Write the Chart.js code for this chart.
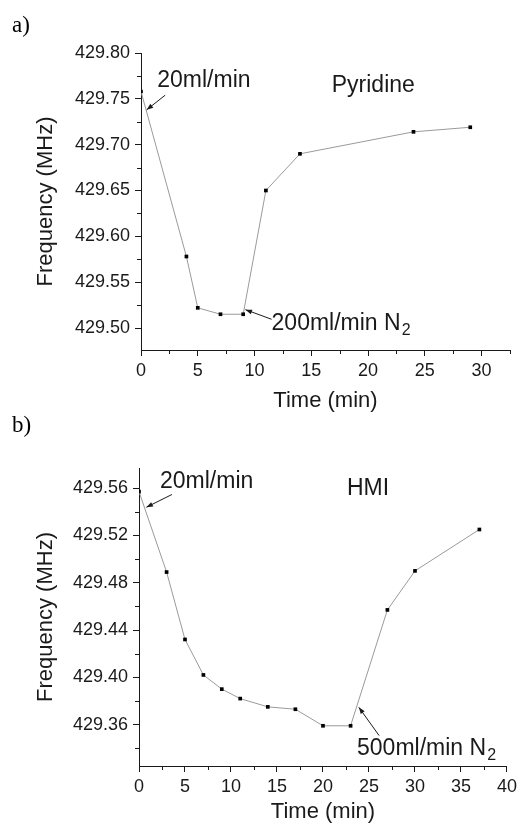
<!DOCTYPE html>
<html>
<head>
<meta charset="utf-8">
<script src="https://cdn.jsdelivr.net/npm/chart.js@4/dist/chart.umd.min.js"></script>
<style>
  html, body { margin: 0; padding: 0; background: #fff; }
  body { width: 521px; height: 825px; position: relative; overflow: hidden; }
  canvas { position: absolute; left: 0; }
  #chart-a { top: 0; }
  #chart-b { top: 415px; }
  .panel-label {
    position: absolute; left: 12px; font: 23px "Liberation Serif", serif;
    line-height: 1; color: #000;
  }
</style>
</head>
<body>
<canvas id="chart-a" width="521" height="415"></canvas>
<canvas id="chart-b" width="521" height="410"></canvas>
<div class="panel-label" style="top:13px">a)</div>
<div class="panel-label" style="top:413px">b)</div>
<script>
// panel a) Pyridine
const timeA = [0, 4, 5, 7, 9, 11, 14, 24, 29];
const freqA = [429.758, 429.578, 429.522, 429.515, 429.515, 429.650, 429.690, 429.714, 429.719];
const xTicksA = [0, 5, 10, 15, 20, 25, 30];
const yTicksA = [429.50, 429.55, 429.60, 429.65, 429.70, 429.75, 429.80];

// panel b) HMI
const timeB = [0, 3, 5, 7, 9, 11, 14, 17, 20, 23, 27, 30, 37];
const freqB = [429.557, 429.489, 429.432, 429.402, 429.390, 429.382, 429.375, 429.373, 429.359, 429.359, 429.457, 429.490, 429.525];
const xTicksB = [0, 5, 10, 15, 20, 25, 30, 35, 40];
const yTicksB = [429.36, 429.40, 429.44, 429.48, 429.52, 429.56];

const FONT = '"Liberation Sans", Arial, sans-serif';
const INK = "#1a1a1a";

function minorTicks(major, min, max) {
  const step = major[1] - major[0];
  const out = [];
  [major[0] - step, ...major].forEach((v) => {
    const m = v + step / 2;
    if (m >= min - 1e-9 && m <= max + 1e-9) out.push(m);
  });
  return out;
}

// short minor ticks drawn outside the axes
const minorTickPlugin = {
  id: "minorTicks",
  afterDraw(chart, args, opts) {
    const { ctx, scales } = chart;
    const xs = scales.x, ys = scales.y;
    ctx.save();
    ctx.strokeStyle = INK;
    ctx.lineWidth = 1;
    ctx.beginPath();
    opts.x.forEach((v) => {
      const px = Math.round(xs.getPixelForValue(v)) + 0.5;
      ctx.moveTo(px, ys.bottom);
      ctx.lineTo(px, ys.bottom + 4);
    });
    opts.y.forEach((v) => {
      const py = Math.round(ys.getPixelForValue(v)) + 0.5;
      ctx.moveTo(xs.left, py);
      ctx.lineTo(xs.left - 4, py);
    });
    ctx.stroke();
    ctx.restore();
  },
};

// text notes and arrows placed in data units
const notesPlugin = {
  id: "notes",
  afterDraw(chart, args, opts) {
    const { ctx, scales } = chart;
    const px = (v) => scales.x.getPixelForValue(v);
    const py = (v) => scales.y.getPixelForValue(v);
    ctx.save();
    ctx.fillStyle = INK;
    ctx.strokeStyle = INK;
    ctx.textBaseline = "alphabetic";
    (opts.texts || []).forEach((t) => {
      ctx.font = `23px ${FONT}`;
      const x = px(t.x), y = py(t.y);
      ctx.fillText(t.text, x, y);
      if (t.sub) {
        const w = ctx.measureText(t.text).width;
        ctx.font = `16px ${FONT}`;
        ctx.fillText(t.sub, x + w + 1, y + 5);
      }
    });
    (opts.arrows || []).forEach((a) => {
      const x1 = px(a.from[0]), y1 = py(a.from[1]);
      const x2 = px(a.to[0]), y2 = py(a.to[1]);
      const ang = Math.atan2(y2 - y1, x2 - x1);
      ctx.lineWidth = 1;
      ctx.beginPath();
      ctx.moveTo(x1, y1);
      ctx.lineTo(x2, y2);
      ctx.stroke();
      ctx.beginPath();
      ctx.moveTo(x2, y2);
      ctx.lineTo(x2 - 7 * Math.cos(ang - 0.35), y2 - 7 * Math.sin(ang - 0.35));
      ctx.lineTo(x2 - 7 * Math.cos(ang + 0.35), y2 - 7 * Math.sin(ang + 0.35));
      ctx.closePath();
      ctx.fill();
    });
    ctx.restore();
  },
};

function makeChart(id, cfg) {
  const points = cfg.time.map((t, i) => ({ x: t, y: cfg.freq[i] }));
  return new Chart(document.getElementById(id), {
    type: "line",
    data: {
      datasets: [
        {
          data: points,
          borderColor: "#9a9a9a",
          borderWidth: 1,
          pointStyle: "rect",
          pointRadius: 2.6,
          pointBackgroundColor: "#000",
          pointBorderColor: "#000",
          pointBorderWidth: 0,
          tension: 0,
        },
      ],
    },
    options: {
      responsive: false,
      animation: false,
      devicePixelRatio: 1,
      layout: { padding: { left: 0, top: cfg.top, right: cfg.right, bottom: 0 } },
      plugins: {
        legend: { display: false },
        tooltip: { enabled: false },
        minorTicks: {
          x: minorTicks(cfg.xTicks, cfg.xMin, cfg.xMax),
          y: minorTicks(cfg.yTicks, cfg.yMin, cfg.yMax),
        },
        notes: cfg.notes,
      },
      scales: {
        x: {
          type: "linear",
          min: cfg.xMin,
          max: cfg.xMax,
          afterBuildTicks: (s) => { s.ticks = cfg.xTicks.map((v) => ({ value: v })); },
          afterFit: (s) => { s.height = cfg.xHeight; },
          grid: { drawOnChartArea: false, tickLength: 6, tickColor: INK },
          border: { color: INK, width: 1 },
          ticks: { color: INK, font: { family: FONT, size: 18 }, padding: 4, maxRotation: 0, autoSkip: false,
                   callback: (v) => String(v) },
          title: { display: true, text: "Time (min)", color: INK, font: { family: FONT, size: 22 },
                   padding: { top: 0, bottom: cfg.xTitlePad } },
        },
        y: {
          type: "linear",
          min: cfg.yMin,
          max: cfg.yMax,
          afterBuildTicks: (s) => { s.ticks = cfg.yTicks.map((v) => ({ value: v })); },
          afterFit: (s) => { s.width = cfg.yWidth; },
          grid: { drawOnChartArea: false, tickLength: 6, tickColor: INK },
          border: { color: INK, width: 1 },
          ticks: { color: INK, font: { family: FONT, size: 18 }, padding: 5, autoSkip: false,
                   callback: (v) => Number(v).toFixed(2) },
          title: { display: true, text: "Frequency (MHz)", color: INK, font: { family: FONT, size: 22 },
                   padding: { top: cfg.yTitlePad, bottom: 0 } },
        },
      },
    },
    plugins: [minorTickPlugin, notesPlugin],
  });
}

makeChart("chart-a", {
  time: timeA, freq: freqA, xTicks: xTicksA, yTicks: yTicksA,
  xMin: 0, xMax: 32.5, yMin: 429.476, yMax: 429.80,
  top: 53, right: 11, xHeight: 65, yWidth: 141, xTitlePad: 1, yTitlePad: 33,
  notes: {
    texts: [
      { x: 1.43, y: 429.763, text: "20ml/min" },
      { x: 16.8, y: 429.758, text: "Pyridine" },
      { x: 11.5, y: 429.498, text: "200ml/min N", sub: "2" },
    ],
    arrows: [
      { from: [2.13, 429.754], to: [0.5, 429.738] },
      { from: [11.5, 429.5095], to: [9.2, 429.520] },
    ],
  },
});

makeChart("chart-b", {
  time: timeB, freq: freqB, xTicks: xTicksB, yTicks: yTicksB,
  xMin: 0, xMax: 40, yMin: 429.325, yMax: 429.577,
  top: 53, right: 13, xHeight: 59, yWidth: 139, xTitlePad: 0, yTitlePad: 33,
  notes: {
    texts: [
      { x: 2.28, y: 429.5597, text: "20ml/min" },
      { x: 22.6, y: 429.554, text: "HMI" },
      { x: 23.7, y: 429.334, text: "500ml/min N", sub: "2" },
    ],
    arrows: [
      { from: [3.58, 429.5546], to: [0.8, 429.5438] },
      { from: [26.1, 429.3507], to: [23.9, 429.3746] },
    ],
  },
});
</script>
</body>
</html>
